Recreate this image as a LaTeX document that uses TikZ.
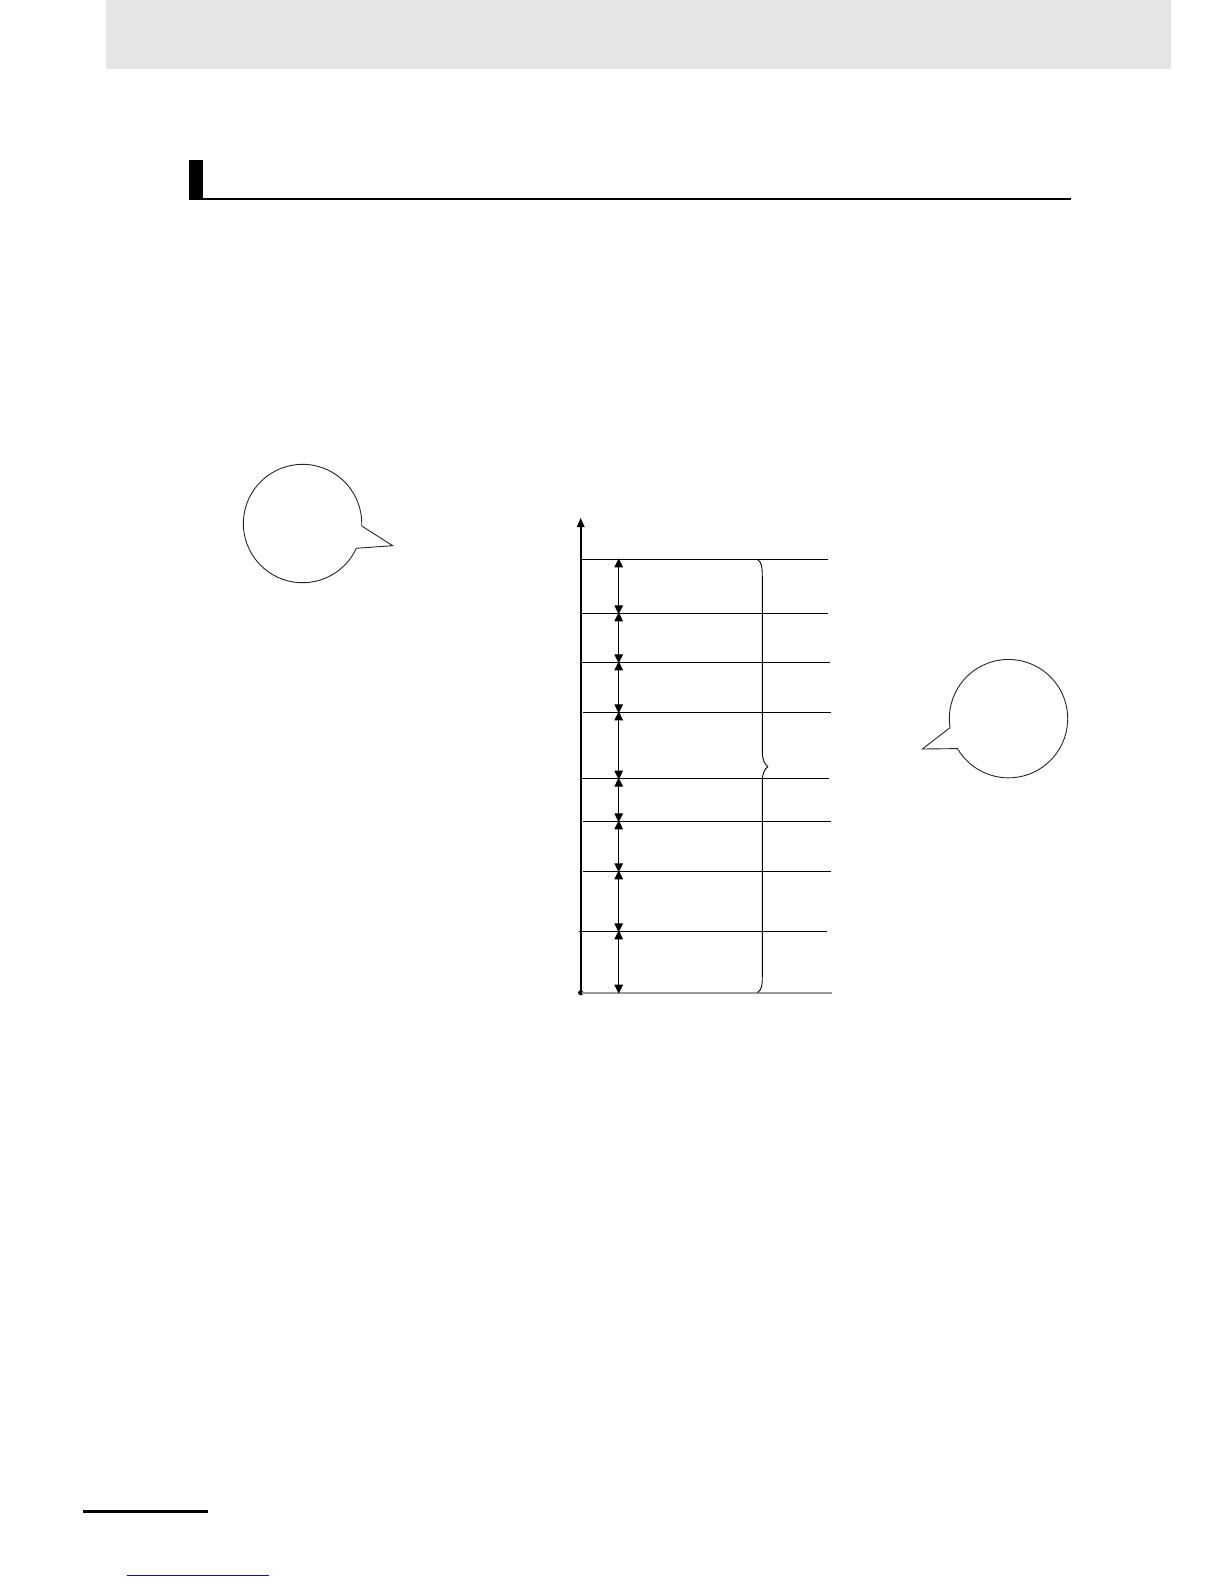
\documentclass[tikz,border=0pt]{standalone}
\usetikzlibrary{arrows.meta}
\definecolor{hdrgray}{RGB}{230,230,230}
\definecolor{linkblue}{RGB}{20,20,140}
\tikzset{
  hline/.style={line width=1.3pt},
  dimarrow/.style={line width=1.2pt,{Triangle[length=9pt,width=8.5pt]}-{Triangle[length=9pt,width=8.5pt]}},
  bubble/.style={line width=0.9pt,draw=black!85},
  bracepath/.style={line width=0.9pt}
}
\begin{document}
\begin{tikzpicture}[x=1pt,y=-1pt]
\useasboundingbox (0,0) rectangle (1224,1584);
% header
\fill[hdrgray] (106,0) rectangle (1171,69);
% heading mark
\fill[black] (189,160) rectangle (203,199);
\draw[line width=2pt] (189,198.5) -- (1071,198.5);
% left bubble
\draw[bubble] (361.7,526) arc[start angle=2.4,end angle=-335.3,radius=59.2] -- (392.7,545.7) -- cycle;
% right bubble
\draw[bubble] (950,727.7) arc[start angle=171.2,end angle=509.6,radius=59.2] -- (922.3,749) -- cycle;
% axis
\coordinate (o) at (580.7,992.7);
\coordinate (top) at (580.7,518);
\draw[line width=1.6pt,-{Triangle[length=9pt,width=7.5pt]}] (o) -- (top);
\fill (o) circle (2.6);
% levels
\coordinate (L1) at (618.7,559.3);
\coordinate (L2) at (618.7,613.3);
\coordinate (L3) at (618.7,662.3);
\coordinate (L4) at (618.7,712.3);
\coordinate (L5) at (618.7,778.7);
\coordinate (L6) at (618.7,821.3);
\coordinate (L7) at (618.7,871.3);
\coordinate (L8) at (618.7,931.3);
\coordinate (L9) at (618.7,992.7);
\draw[hline] (580.7,559.3) -- (828.3,559.3);
\draw[hline] (580.7,613.3) -- (828.3,613.3);
\draw[hline] (580.7,662.3) -- (830,662.3);
\draw[hline] (583.3,712.3) -- (830.7,712.3);
\draw[hline] (580.7,778.7) -- (829,778.7);
\draw[hline] (583.3,821.3) -- (830.7,821.3);
\draw[hline] (583.3,871.3) -- (830.7,871.3);
\draw[hline] (579.3,931.3) -- (826.7,931.3);
\draw[line width=1.8pt,black!40] (582,992.7) -- (832,992.7);
% dimension arrows
\foreach \a/\b in {L1/L2,L2/L3,L3/L4,L4/L5,L5/L6,L6/L7,L7/L8,L8/L9}{
  \draw[dimarrow] ([yshift=1pt]\a) -- ([yshift=-1pt]\b);
}
% brace
\draw[bracepath] (757.3,559.3) .. controls (762,562) and (762.3,568) .. (762.3,578)
  -- (762.3,752) .. controls (762.3,760) and (765,764) .. (767.7,766.7)
  .. controls (765,769) and (762.3,773) .. (762.3,781)
  -- (762.3,975) .. controls (762.3,985) and (762,990) .. (757.3,992.5);
% footer
\draw[line width=2.7pt] (82.7,1511.7) -- (208,1511.7);
\draw[line width=1pt,linkblue] (126.7,1575) -- (269,1575);
\end{tikzpicture}
\end{document}
